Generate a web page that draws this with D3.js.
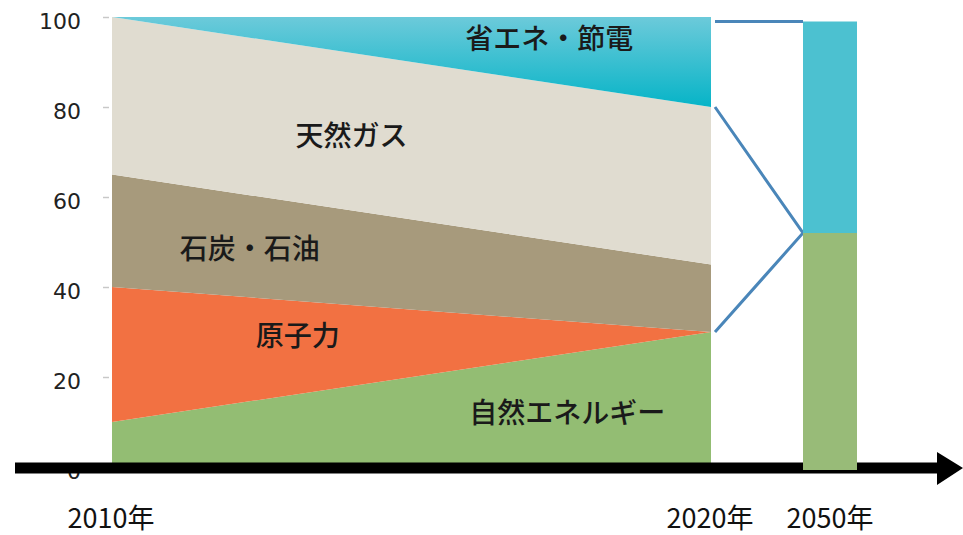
<!DOCTYPE html>
<html><head><meta charset="utf-8">
<script src="https://cdn.jsdelivr.net/npm/d3@7"></script>
<style>html,body{margin:0;padding:0;background:#fff;}svg{display:block;}</style>
</head><body>
<svg id="chart" width="963" height="535"></svg>
<script>
// ---- data ----
const years = [2010, 2020];
const seriesNames = ["自然エネルギー", "原子力", "石炭・石油", "天然ガス", "省エネ・節電"];
const renewable = [10, 30];
const nuclear = [30, 0];
const coalOil = [25, 15];
const gas = [35, 35];
const saving = [0, 20];
const bar2050Labels = ["2050年"];
const bar2050Renewable = [52];
const bar2050Saving = [47];
const yTicks = [0, 20, 40, 60, 80, 100];
const xLabels = ["2010年", "2020年"];

const colors = ["#93bd73", "#f27142", "#a79a7c", "#e0dcd0", "url(#cyanGrad)"];

const svg = d3.select("#chart");
const W = 963, H = 535;

const y = d3.scaleLinear().domain([0, 100]).range([467, 17]);
const x = d3.scaleLinear().domain(d3.extent(years)).range([112, 711]);
const xb = d3.scaleBand().domain(bar2050Labels).range([803, 857]).padding(0);

// gradient
const defs = svg.append("defs");
const g1 = defs.append("linearGradient").attr("id", "cyanGrad")
  .attr("x1", 0).attr("y1", 0).attr("x2", 0).attr("y2", 1);
g1.append("stop").attr("offset", "0%").attr("stop-color", "#6ccada");
g1.append("stop").attr("offset", "100%").attr("stop-color", "#06b4c7");

// stacked data
const table = years.map((yr, i) => ({
  year: yr,
  [seriesNames[0]]: renewable[i],
  [seriesNames[1]]: nuclear[i],
  [seriesNames[2]]: coalOil[i],
  [seriesNames[3]]: gas[i],
  [seriesNames[4]]: saving[i]
}));
const stacked = d3.stack().keys(seriesNames)(table);

const area = d3.area()
  .x(d => x(d.data.year))
  .y0(d => y(d[0]))
  .y1(d => y(d[1]));

svg.append("g").selectAll("path").data(stacked).join("path")
  .attr("d", area)
  .attr("fill", (d, i) => colors[i]);

// y axis ticks (small grey) and labels
const yAxis = d3.axisLeft(y).tickValues(yTicks).tickSize(6).tickPadding(22).tickFormat(d3.format("d"));
const ya = svg.append("g").attr("transform", `translate(${x(2010) - 3},0)`).call(yAxis);
ya.select(".domain").remove();
ya.selectAll(".tick line").attr("stroke", "#c8c8c8").attr("stroke-width", 1.5);
ya.selectAll(".tick text")
  .attr("font-family", "DejaVu Sans, Verdana, sans-serif")
  .attr("font-size", 22)
  .attr("fill", "#222")
  .attr("dy", "0.5em");

// connector lines (2020 -> 2050)
const xc0 = x(2020) + 4, xc1 = xb("2050年");
const split = y(bar2050Renewable[0]);
const topB = y(bar2050Renewable[0] + bar2050Saving[0]);
const connectors = [
  [[xc0, topB], [xc1, topB]],
  [[xc0, y(renewable[1] + nuclear[1] + coalOil[1] + gas[1])], [xc1, split], [xc0, y(renewable[1] + nuclear[1])]]
];
svg.append("g").selectAll("path").data(connectors).join("path")
  .attr("d", d3.line())
  .attr("fill", "none")
  .attr("stroke", "#4a86b9")
  .attr("stroke-width", 3);

// horizontal axis with arrow
const axisY = y(0) + 1;
svg.append("line")
  .attr("x1", 15).attr("x2", 940)
  .attr("y1", axisY).attr("y2", axisY)
  .attr("stroke", "#000").attr("stroke-width", 11);
svg.append("path")
  .attr("d", d3.line()([[937, axisY - 16], [963, axisY], [937, axisY + 17]]) + "Z")
  .attr("fill", "#000");

// 2050 bar
const barG = svg.append("g");
barG.selectAll("rect.r").data(bar2050Labels).join("rect")
  .attr("x", d => xb(d)).attr("width", xb.bandwidth())
  .attr("y", (d, i) => y(bar2050Renewable[i])).attr("height", (d, i) => y(0) - y(bar2050Renewable[i]) + 3)
  .attr("fill", "#98bb78");
barG.selectAll("rect.s").data(bar2050Labels).join("rect")
  .attr("x", d => xb(d)).attr("width", xb.bandwidth())
  .attr("y", (d, i) => y(bar2050Renewable[i] + bar2050Saving[i]))
  .attr("height", (d, i) => y(bar2050Renewable[i]) - y(bar2050Renewable[i] + bar2050Saving[i]))
  .attr("fill", "#4cc1d0");

// series labels inside areas
const labelFont = "'Noto Sans CJK JP', sans-serif";
const seriesLabelPos = [
  {name: "自然エネルギー", year: 2017.6, v: 12.5},
  {name: "原子力", year: 2013.1, v: 29.5},
  {name: "石炭・石油", year: 2012.3, v: 49},
  {name: "天然ガス", year: 2014, v: 74},
  {name: "省エネ・節電", year: 2017.3, v: 95.5}
];
svg.append("g").selectAll("text").data(seriesLabelPos).join("text")
  .attr("x", d => x(d.year)).attr("y", d => y(d.v))
  .attr("text-anchor", "middle").attr("dominant-baseline", "central")
  .attr("font-family", labelFont).attr("font-size", 28).attr("font-weight", 500)
  .attr("fill", "#1a1a1a")
  .text(d => d.name);

// x labels
const xlab = svg.append("g")
  .attr("font-family", labelFont).attr("font-size", 27).attr("fill", "#111")
  .attr("text-anchor", "middle");
xlab.selectAll("text.a").data(xLabels).join("text")
  .attr("x", (d, i) => x(years[i]) - 1).attr("y", 528).text(d => d);
xlab.selectAll("text.b").data(bar2050Labels).join("text")
  .attr("x", d => xb(d) + xb.bandwidth() / 2).attr("y", 528).text(d => d);
</script>
</body></html>
